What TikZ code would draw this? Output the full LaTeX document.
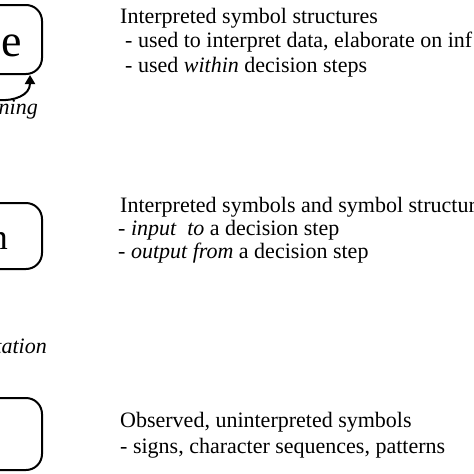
\documentclass[tikz,border=0pt]{standalone}
\usepackage{fontspec}
\setmainfont{Liberation Serif}
\usetikzlibrary{arrows.meta,calc}
\tikzset{
  box/.style={draw=black, line width=2pt, rounded corners=16pt, inner sep=0pt},
  desc/.style={anchor=base west, inner sep=0pt, font=\fontsize{22}{26}\selectfont},
  lbl/.style={anchor=base east, inner sep=0pt, font=\fontsize{22}{26}\selectfont\itshape},
  big/.style={anchor=base east, inner sep=0pt},
  loop/.style={line width=2pt, -{Triangle[length=9pt,width=10pt]}}
}
\begin{document}
\begin{tikzpicture}[x=1pt,y=-1pt]
\useasboundingbox (0,0) rectangle (474,474);
\fill[white] (0,0) rectangle (474,474);
% boxes
\node[box, minimum width=110pt, minimum height=69pt] (k) at (-13,39.5) {};
\node[box, minimum width=110pt, minimum height=66pt] (i) at (-13,236) {};
\node[box, minimum width=110pt, minimum height=72pt] (d) at (-13,434) {};
% box texts
\node[big, font=\fontsize{46}{50}\selectfont] (kt) at (22,56) {e};
\node[big, font=\fontsize{36}{40}\selectfont] (it) at (8,249) {n};
% loop arrow
\coordinate (ls) at ($(k.south)+(-20,0)$);
\coordinate (le) at ($(k.south)+(43,0)$);
\draw[loop] (ls) .. controls ($(ls)+(0,32)$) and ($(le)+(0,32)$) .. (le);
% labels
\node[lbl] (kl) at (38,114) {ning};
\node[lbl] (il) at (47,353) {tation};
% descriptions
\node[desc] (k1) at (120,23) {Interpreted symbol structures};
\node[desc] (k2) at (125,47.5) {- used to interpret data, elaborate on inf};
\node[desc] (k3) at (125,72) {- used \textit{within} decision steps};
\node[desc] (i1) at (120,212) {Interpreted symbols and symbol structur};
\node[desc] (i2) at (118,235.5) {- \textit{input\ \ to} a decision step};
\node[desc] (i3) at (118,258.5) {- \textit{output from} a decision step};
\node[desc] (d1) at (120,427) {Observed, uninterpreted symbols};
\node[desc] (d2) at (120,453) {- signs, character sequences, patterns};
\end{tikzpicture}
\end{document}
